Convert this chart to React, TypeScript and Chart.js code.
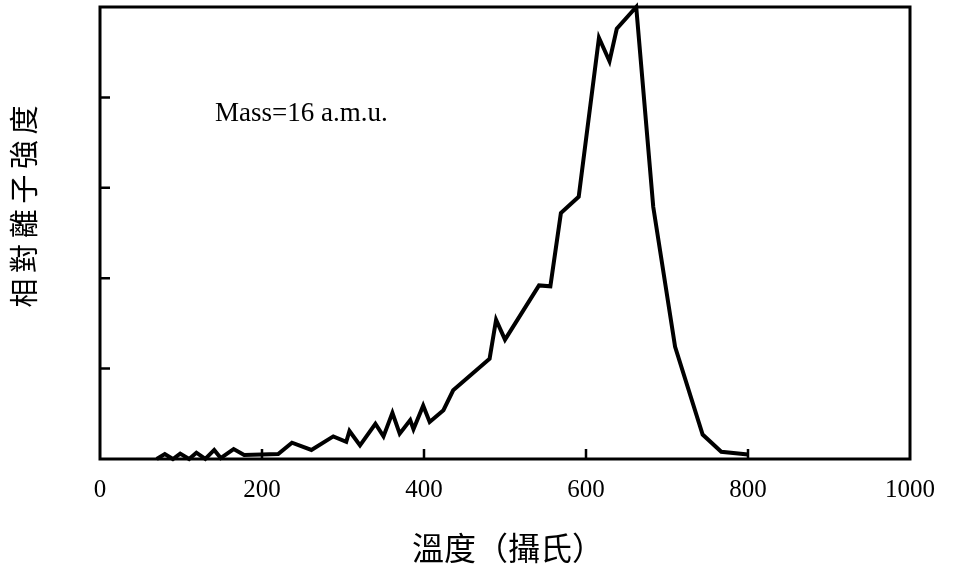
import React, { useEffect, useRef } from "react";
import { Chart, registerables } from "chart.js";

Chart.register(...registerables);

const temperature: number[] = [
  70, 80, 90, 99, 110, 119, 130, 141, 149, 165, 178, 220, 237, 261, 288, 304, 308, 321,
  340, 350, 361, 370, 383, 387, 399, 407, 424, 436, 481, 489, 500, 542, 556, 569, 591,
  616, 629, 638, 662, 683, 710, 744, 767, 800,
];
const intensity: number[] = [
  0, 0.055, 0, 0.06, 0, 0.07, 0, 0.1, 0.01, 0.11, 0.045, 0.055, 0.18, 0.1, 0.25, 0.19, 0.31, 0.15,
  0.39, 0.25, 0.51, 0.28, 0.43, 0.33, 0.59, 0.41, 0.54, 0.76, 1.11, 1.54, 1.32, 1.92, 1.91, 2.72, 2.9,
  4.66, 4.4, 4.76, 5.0, 2.79, 1.24, 0.27, 0.08, 0.05,
];
const xTicks: number[] = [0, 200, 400, 600, 800, 1000];
const yInnerTicks: number[] = [1, 2, 3, 4];
const xInnerTicks: number[] = [200, 400, 600, 800];
const xTitle = "溫度（攝氏）";
const yTitle = "相對離子強度";
const annotation = "Mass=16 a.m.u.";

const framePlugin = {
  id: "framePlugin",
  afterDraw(chart: any) {
    const { ctx, chartArea } = chart;
    const { left, right, top, bottom } = chartArea;
    const xs = chart.scales.x;
    const ys = chart.scales.y;
    ctx.save();
    ctx.strokeStyle = "#000";
    ctx.lineWidth = 3;
    ctx.strokeRect(left, top, right - left, bottom - top);
    ctx.lineWidth = 2.5;
    ctx.beginPath();
    yInnerTicks.forEach((v) => {
      const py = ys.getPixelForValue(v);
      ctx.moveTo(left, py);
      ctx.lineTo(left + 10, py);
    });
    xInnerTicks.forEach((v) => {
      const px = xs.getPixelForValue(v);
      ctx.moveTo(px, bottom);
      ctx.lineTo(px, bottom - 10);
    });
    ctx.stroke();

    ctx.fillStyle = "#000";
    ctx.font = "27px 'Liberation Serif'";
    ctx.textAlign = "left";
    ctx.textBaseline = "alphabetic";
    ctx.fillText(annotation, 215, 121);

    ctx.font = "32px 'Noto Sans CJK TC'";
    ctx.textAlign = "center";
    ctx.textBaseline = "middle";
    ctx.fillText(xTitle, 508, 548);

    ctx.font = "29px 'Noto Sans CJK TC'";
    const chars = Array.from(yTitle);
    const step = 34.6;
    chars.forEach((c, i) => {
      ctx.save();
      ctx.translate(24, 293 - i * step);
      ctx.rotate(-Math.PI / 2);
      ctx.fillText(c, 0, 0);
      ctx.restore();
    });
    ctx.restore();
  },
};

export default function App() {
  const ref = useRef<HTMLCanvasElement | null>(null);
  useEffect(() => {
    if (!ref.current) return;
    const chart = new Chart(ref.current, {
      type: "line",
      data: {
        datasets: [
          {
            data: temperature.map((t, i) => ({ x: t, y: intensity[i] })),
            borderColor: "#000",
            borderWidth: 4,
            pointRadius: 0,
            tension: 0,
            fill: false,
            clip: false as any,
          },
        ],
      },
      options: {
        animation: false,
        responsive: true,
        maintainAspectRatio: false,
        layout: { padding: { top: 7, right: 43, left: 0, bottom: 0 } },
        plugins: { legend: { display: false }, tooltip: { enabled: false } },
        scales: {
          x: {
            type: "linear",
            min: 0,
            max: 1000,
            afterBuildTicks: (s: any) => {
              s.ticks = xTicks.map((v) => ({ value: v }));
            },
            afterFit: (s: any) => {
              s.height = 114;
            },
            grid: { display: false, drawTicks: false },
            border: { display: false },
            ticks: {
              color: "#000",
              font: { family: "'Liberation Serif'", size: 25 },
              padding: 16,
              maxRotation: 0,
              autoSkip: false,
              callback: (v: any) => String(v),
            },
          },
          y: {
            min: 0,
            max: 5,
            afterFit: (s: any) => {
              s.width = 100;
            },
            grid: { display: false, drawTicks: false },
            border: { display: false },
            ticks: { display: false },
          },
        },
      },
      plugins: [framePlugin],
    });
    return () => chart.destroy();
  }, []);
  return (
    <div style={{ position: "fixed", left: 0, top: 0, width: 953, height: 573, background: "#fff" }}>
      <canvas ref={ref} />
    </div>
  );
}
